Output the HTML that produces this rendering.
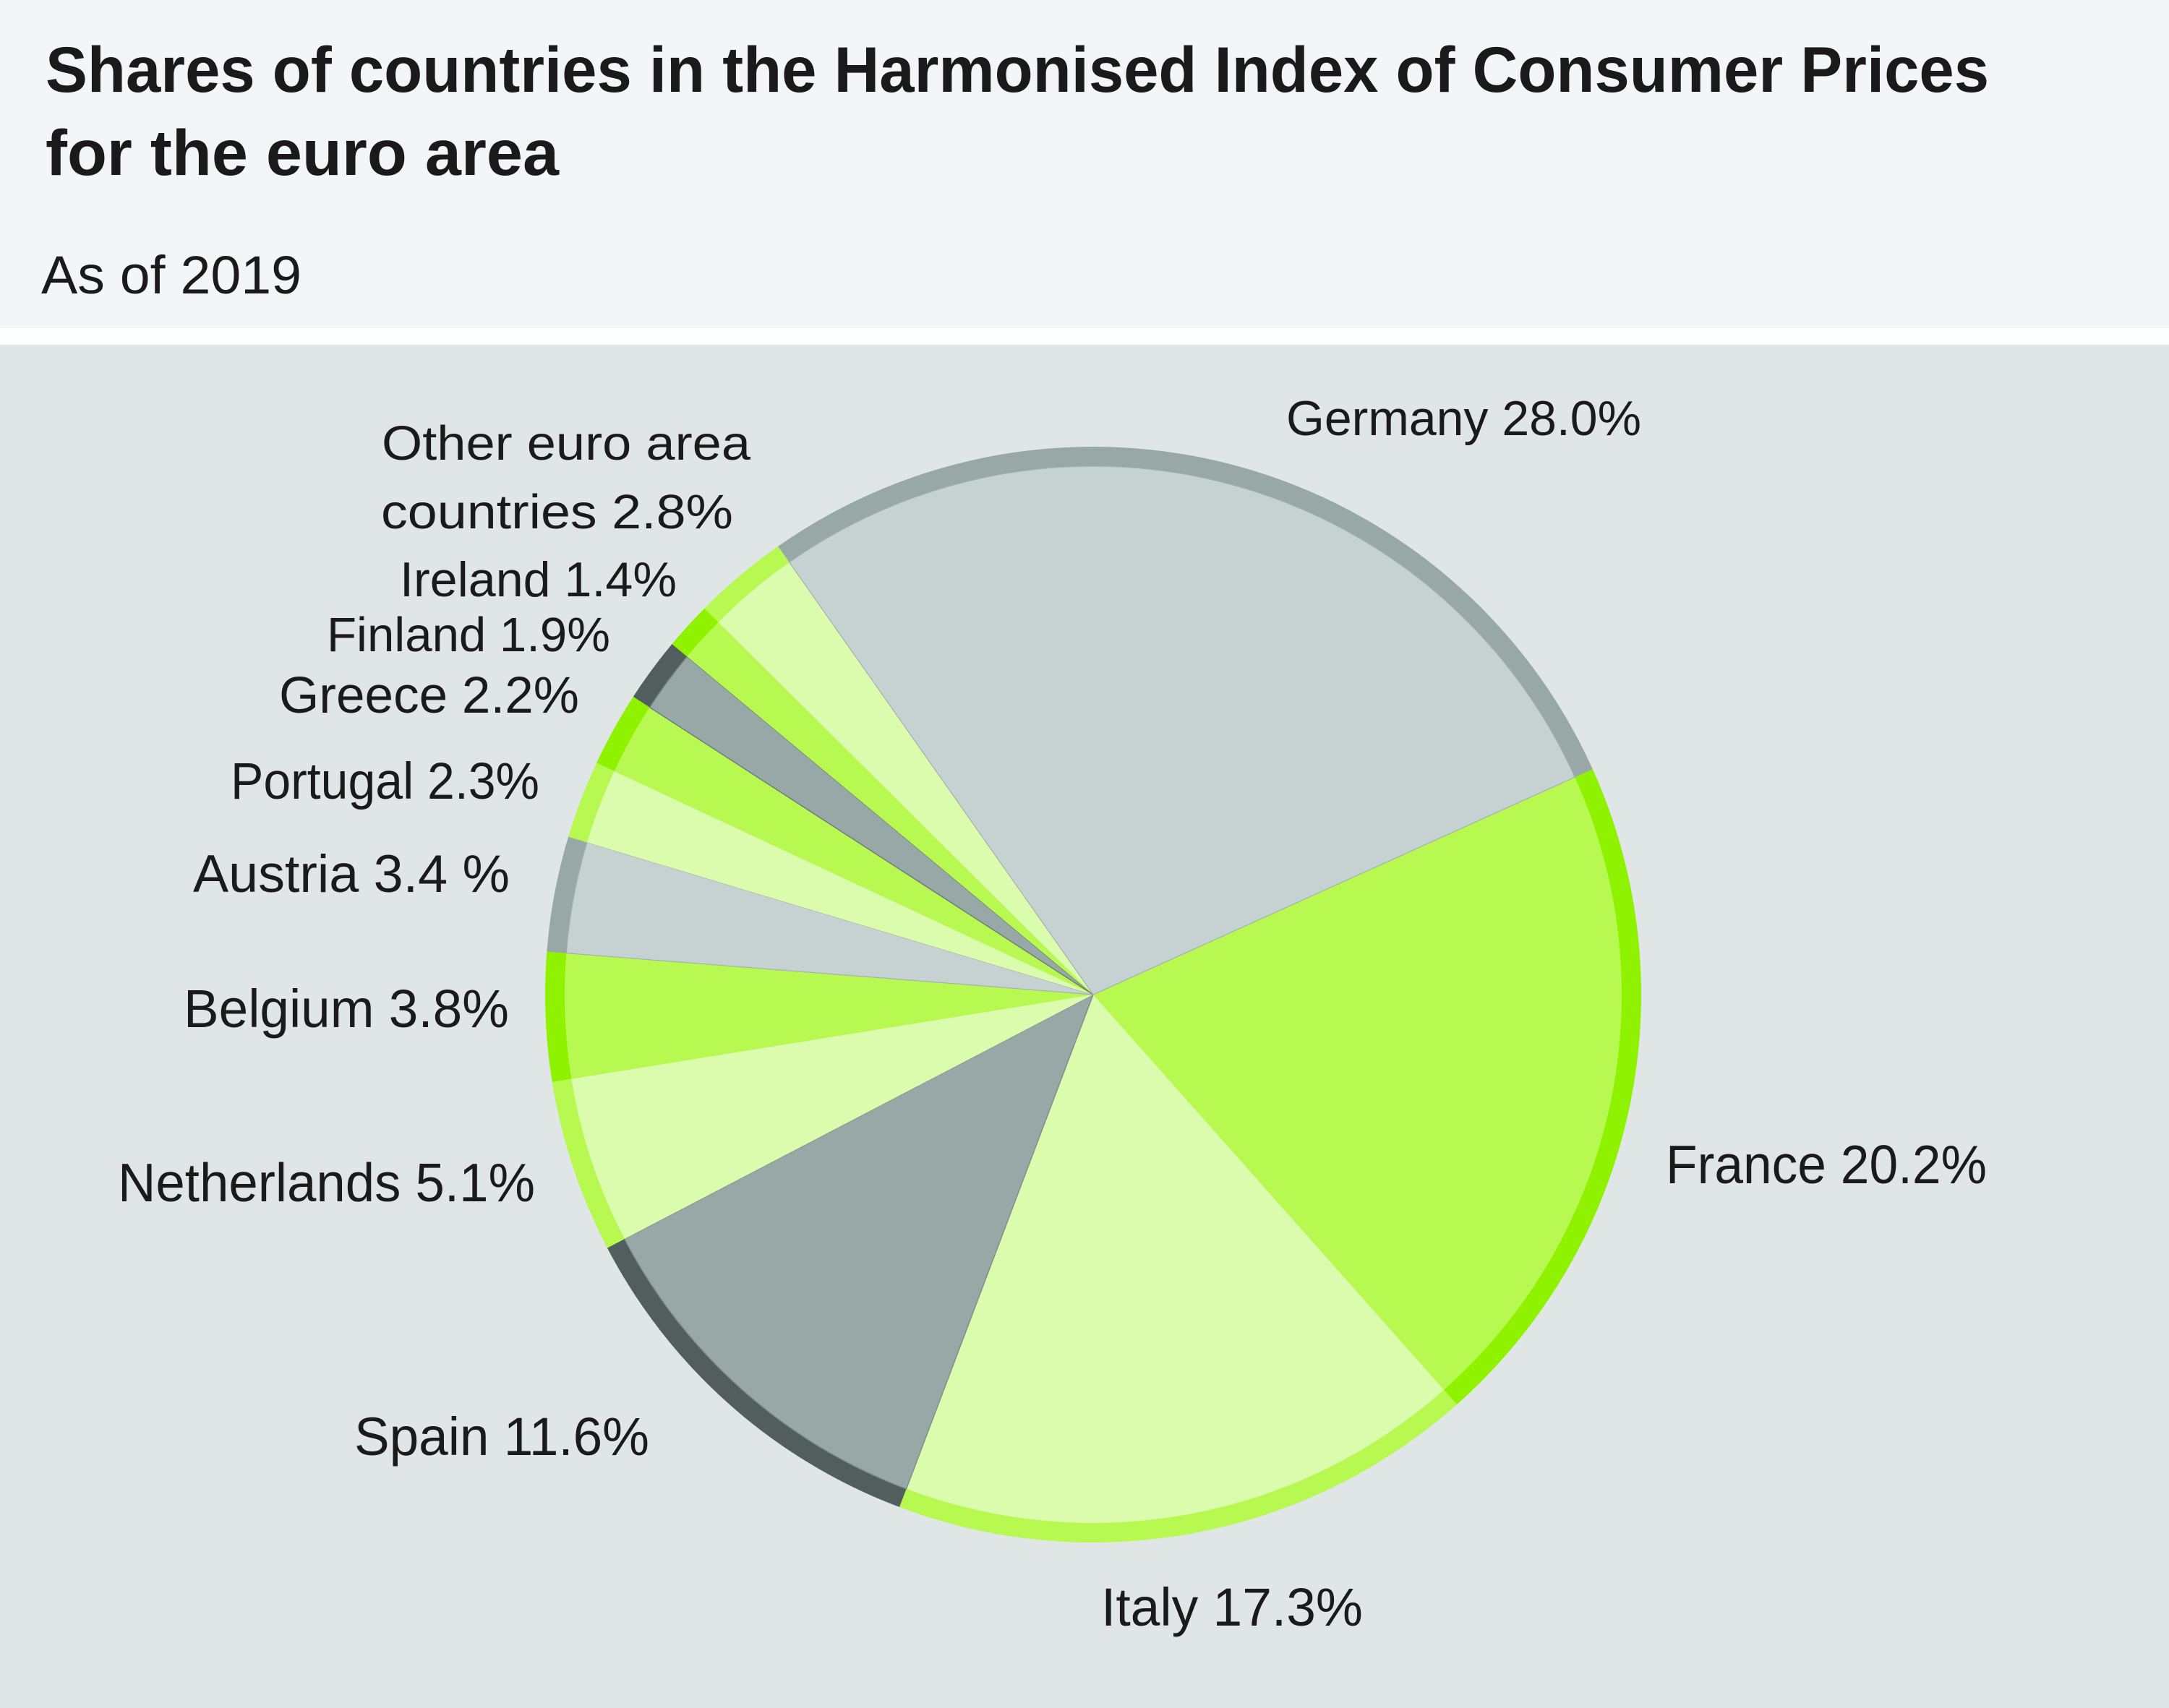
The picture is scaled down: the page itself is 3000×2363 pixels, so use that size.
<!DOCTYPE html>
<html>
<head>
<meta charset="utf-8">
<style>
html,body{margin:0;padding:0;background:#dfe6e5;}
svg{display:block;}
text{font-family:"Liberation Sans",Arial,sans-serif;fill:#1a1a1a;}
</style>
</head>
<body>
<svg width="3000" height="2363" viewBox="0 0 3000 2363" xmlns="http://www.w3.org/2000/svg">
  <!-- backgrounds -->
  <rect x="0" y="0" width="3000" height="454" fill="#f2f6f7"/>
  <rect x="0" y="454" width="3000" height="23" fill="#ffffff"/>
  <rect x="0" y="477" width="3000" height="1886" fill="#dfe6e5"/>

  <!-- title -->
  <text x="63" y="127" font-size="89" font-weight="bold" textLength="2688" lengthAdjust="spacingAndGlyphs">Shares of countries in the Harmonised Index of Consumer Prices</text>
  <text x="63" y="242" font-size="89" font-weight="bold" textLength="710" lengthAdjust="spacingAndGlyphs">for the euro area</text>
  <text x="57" y="406" font-size="74" textLength="360" lengthAdjust="spacingAndGlyphs">As of 2019</text>

  <!-- pie base -->
  <circle cx="1512" cy="1376" r="757" fill="#b7f851"/>

  <!-- outer ring sectors -->
  <g>
    <path d="M1512,1376 L2202.84,1064.08 A758,758 0 0 1 2015.07,1943.01 Z" fill="#8ef200"/>
    <path d="M1512,1376 L2015.07,1943.01 A758,758 0 0 1 1244.07,2085.06 Z" fill="#b7f851"/>
    <path d="M1512,1376 L1244.07,2085.06 A758,758 0 0 1 839.89,1726.48 Z" fill="#525e5d"/>
    <path d="M1512,1376 L839.89,1726.48 A758,758 0 0 1 763.71,1496.92 Z" fill="#b7f851"/>
    <path d="M1512,1376 L763.71,1496.92 A758,758 0 0 1 756.33,1316.53 Z" fill="#8ef200"/>
    <path d="M1512,1376 L756.33,1316.53 A758,758 0 0 1 786.12,1157.67 Z" fill="#98a8a7"/>
    <path d="M1512,1376 L786.12,1157.67 A758,758 0 0 1 825.13,1055.41 Z" fill="#b7f851"/>
    <path d="M1512,1376 L825.13,1055.41 A758,758 0 0 1 875.86,963.83 Z" fill="#8ef200"/>
    <path d="M1512,1376 L875.86,963.83 A758,758 0 0 1 929.47,890.99 Z" fill="#525e5d"/>
    <path d="M1512,1376 L929.47,890.99 A758,758 0 0 1 974.33,841.69 Z" fill="#8ef200"/>
    <path d="M1512,1376 L974.33,841.69 A758,758 0 0 1 1076.14,755.84 Z" fill="#b7f851"/>
    <path d="M1512,1376 L1076.14,755.84 A758,758 0 0 1 2202.84,1064.08 Z" fill="#98a8a7"/>
  </g>

  <!-- inner fill sectors -->
  <g>
    <path d="M1512,1376 L2178.23,1075.19 A731,731 0 0 1 1997.15,1922.82 Z" fill="#b7f851"/>
    <path d="M1512,1376 L1997.15,1922.82 A731,731 0 0 1 1253.61,2059.81 Z" fill="#dbfcac"/>
    <path d="M1512,1376 L1253.61,2059.81 A731,731 0 0 1 863.83,1713.99 Z" fill="#97a8a7" stroke="#7f8f8e" stroke-width="1.5"/>
    <path d="M1512,1376 L863.83,1713.99 A731,731 0 0 1 790.36,1492.62 Z" fill="#dbfcac"/>
    <path d="M1512,1376 L790.36,1492.62 A731,731 0 0 1 783.25,1318.65 Z" fill="#b7f851"/>
    <path d="M1512,1376 L783.25,1318.65 A731,731 0 0 1 811.98,1165.45 Z" fill="#c6d2d1" stroke="#a3b1b0" stroke-width="1.2"/>
    <path d="M1512,1376 L811.98,1165.45 A731,731 0 0 1 849.60,1066.83 Z" fill="#dbfcac"/>
    <path d="M1512,1376 L849.60,1066.83 A731,731 0 0 1 898.52,978.51 Z" fill="#b7f851"/>
    <path d="M1512,1376 L898.52,978.51 A731,731 0 0 1 950.22,908.27 Z" fill="#97a8a7" stroke="#6f7e7d" stroke-width="1.5"/>
    <path d="M1512,1376 L950.22,908.27 A731,731 0 0 1 993.48,860.73 Z" fill="#b7f851"/>
    <path d="M1512,1376 L993.48,860.73 A731,731 0 0 1 1091.67,777.93 Z" fill="#dbfcac"/>
    <path d="M1512,1376 L1091.67,777.93 A731,731 0 0 1 2178.23,1075.19 Z" fill="#c6d2d1" stroke="#a3b1b0" stroke-width="1.2"/>
  </g>

  <!-- labels -->
  <g>
    <text x="1779" y="602" font-size="68" textLength="491" lengthAdjust="spacingAndGlyphs">Germany 28.0%</text>
    <text x="2304" y="1637" font-size="75" textLength="444" lengthAdjust="spacingAndGlyphs">France 20.2%</text>
    <text x="1523" y="2249" font-size="74" textLength="362" lengthAdjust="spacingAndGlyphs">Italy 17.3%</text>
    <text x="490" y="2013" font-size="74" textLength="408" lengthAdjust="spacingAndGlyphs">Spain 11.6%</text>
    <text x="163" y="1662" font-size="75" textLength="577" lengthAdjust="spacingAndGlyphs">Netherlands 5.1%</text>
    <text x="254" y="1421" font-size="74" textLength="450" lengthAdjust="spacingAndGlyphs">Belgium 3.8%</text>
    <text x="267" y="1234" font-size="73" textLength="438" lengthAdjust="spacingAndGlyphs">Austria 3.4 %</text>
    <text x="319" y="1105" font-size="71" textLength="427" lengthAdjust="spacingAndGlyphs">Portugal 2.3%</text>
    <text x="386" y="986" font-size="71" textLength="415" lengthAdjust="spacingAndGlyphs">Greece 2.2%</text>
    <text x="452" y="901" font-size="67" textLength="392" lengthAdjust="spacingAndGlyphs">Finland 1.9%</text>
    <text x="553" y="825" font-size="68" textLength="383" lengthAdjust="spacingAndGlyphs">Ireland 1.4%</text>
    <text x="528" y="636" font-size="67" textLength="510" lengthAdjust="spacingAndGlyphs">Other euro area</text>
    <text x="527" y="731" font-size="67" textLength="487" lengthAdjust="spacingAndGlyphs">countries 2.8%</text>
  </g>
</svg>
</body>
</html>
